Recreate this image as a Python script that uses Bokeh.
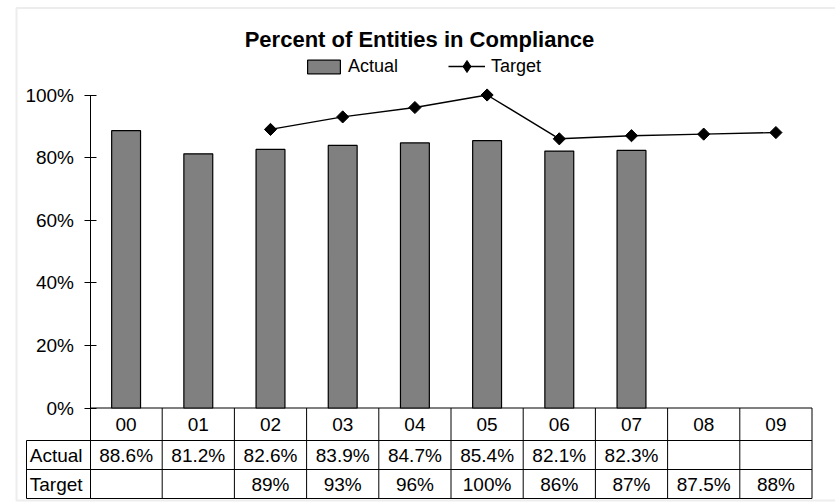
import numpy as np
from bokeh.plotting import figure
from bokeh.models import (Range1d, FixedTicker, NumeralTickFormatter, BoxAnnotation,
                          ColumnDataSource, Legend, LegendItem)
from bokeh.core.properties import value
from bokeh.embed import file_html
from bokeh.resources import INLINE

# ---- data ----
categories = ["00", "01", "02", "03", "04", "05", "06", "07", "08", "09"]
actual = [88.6, 81.2, 82.6, 83.9, 84.7, 85.4, 82.1, 82.3, None, None]
target = [None, None, 89, 93, 96, 100, 86, 87, 87.5, 88]
y_ticks = [0, 0.2, 0.4, 0.6, 0.8, 1.0]
title_text = "Percent of Entities in Compliance"
row_labels = ["Actual", "Target"]

FONT = "Liberation Sans"
n = len(categories)
xc = np.arange(n) + 0.5

# ---- layout geometry (pixels -> data units) ----
W, H = 835, 503
X0_PX, PX_PER_CAT = 89.5, 72.2
Y0_PX, PX_PER_UNIT = 407.5, 313.0
X_START = -X0_PX / PX_PER_CAT
X_END = (W - X0_PX) / PX_PER_CAT
Y_END = Y0_PX / PX_PER_UNIT
Y_START = -(H - Y0_PX) / PX_PER_UNIT
px_y = lambda py: (Y0_PX - py) / PX_PER_UNIT
px_x = lambda px: (px - X0_PX) / PX_PER_CAT

row_edges = [0.0, px_y(440), px_y(469), px_y(498)]
left_col = px_x(26)

p = figure(width=W, height=H, output_backend="svg", toolbar_location=None,
           x_range=Range1d(X_START, X_END), y_range=Range1d(Y_START, Y_END),
           x_axis_location=None, min_border=0)
p.outline_line_color = None
p.xgrid.visible = False
p.ygrid.visible = False
p.background_fill_color = "white"
p.border_fill_color = "white"

ax = p.yaxis[0]
ax.fixed_location = 0
ax.bounds = (row_edges[-1], 1)
ax.ticker = FixedTicker(ticks=y_ticks, minor_ticks=[])
ax.formatter = NumeralTickFormatter(format="0%")
ax.major_tick_in = 6
ax.major_tick_out = 6
ax.minor_tick_in = 0
ax.minor_tick_out = 0
ax.major_label_standoff = 10
ax.major_label_text_font = FONT
ax.major_label_text_font_size = "19px"
ax.major_label_text_color = "black"
ax.axis_line_color = "black"
ax.major_tick_line_color = "black"

# outer border
p.add_layout(BoxAnnotation(left=px_x(16), right=X_END + 1, top=px_y(7.5), bottom=px_y(500),
                           fill_alpha=0, line_color="#c4c4c4", line_width=2))

# table grid lines
p.segment(x0=[0] + [left_col] * 3, y0=row_edges, x1=[n] * 4, y1=row_edges,
          line_color="black", line_width=1)
vx = list(range(1, n + 1))
p.segment(x0=vx, y0=[0] * n, x1=vx, y1=[row_edges[-1]] * n, line_color="black", line_width=1)
p.segment(x0=[left_col], y0=[row_edges[1]], x1=[left_col], y1=[row_edges[-1]],
          line_color="black", line_width=1)

# bars
a_x = [x for x, v in zip(xc, actual) if v is not None]
a_v = [v / 100 for v in actual if v is not None]
bars = p.vbar(x=a_x, top=a_v, bottom=0, width=0.4, fill_color="#808080",
              line_color="black", line_width=1.2)

# target line
t_x = [x for x, v in zip(xc, target) if v is not None]
t_v = [v / 100 for v in target if v is not None]
tline = p.line(t_x, t_v, line_color="black", line_width=1.4)
p.scatter(t_x, t_v, marker="square", angle=np.pi / 4, size=8.6,
          fill_color="black", line_color="black")
# legend-only marker (no visible point)
tleg = p.scatter([np.nan], [np.nan], marker="diamond", fill_color="black", line_color="black")

# table texts
mid = lambda i: (row_edges[i] + row_edges[i + 1]) / 2
txt = dict(text_align="center", text_baseline="middle", text_font=value(FONT),
           text_font_size="19px", text_color="black")
p.text(x="x", y="y", text="t", source=ColumnDataSource(dict(x=xc, y=[mid(0)] * n, t=categories)), **txt)
p.text(x="x", y="y", text="t", source=ColumnDataSource(dict(
    x=a_x, y=[mid(1)] * len(a_x), t=[f"{v:.1f}%" for v in actual if v is not None])), **txt)
p.text(x="x", y="y", text="t", source=ColumnDataSource(dict(
    x=t_x, y=[mid(2)] * len(t_x), t=[f"{v:g}%" for v in target if v is not None])), **txt)
p.text(x=[left_col + 0.045] * 2, y=[mid(1), mid(2)], text=row_labels, text_align="left",
       text_baseline="middle", text_font=value(FONT), text_font_size="19px", text_color="black")

# title
p.text(x=[px_x(419)], y=[px_y(39)], text=[title_text], text_align="center", text_baseline="middle",
       text_font=value(FONT), text_font_size="22px", text_font_style="bold", text_color="black")

# legends
def mk_legend(items, loc, gw, gh, standoff):
    lg = Legend(items=items, location=loc, orientation="horizontal", border_line_color=None,
                background_fill_alpha=0, padding=0, margin=0, spacing=0,
                glyph_width=gw, glyph_height=gh, label_standoff=standoff,
                label_text_font=FONT, label_text_font_size="18px", label_text_color="black")
    p.add_layout(lg)

mk_legend([LegendItem(label="Actual", renderers=[bars])], (303, H - 77), 41, 17, 4)
mk_legend([LegendItem(label="Target", renderers=[tline, tleg])], (448, H - 81), 37, 30, 6)

open("out.html", "w").write(file_html(p, INLINE))
